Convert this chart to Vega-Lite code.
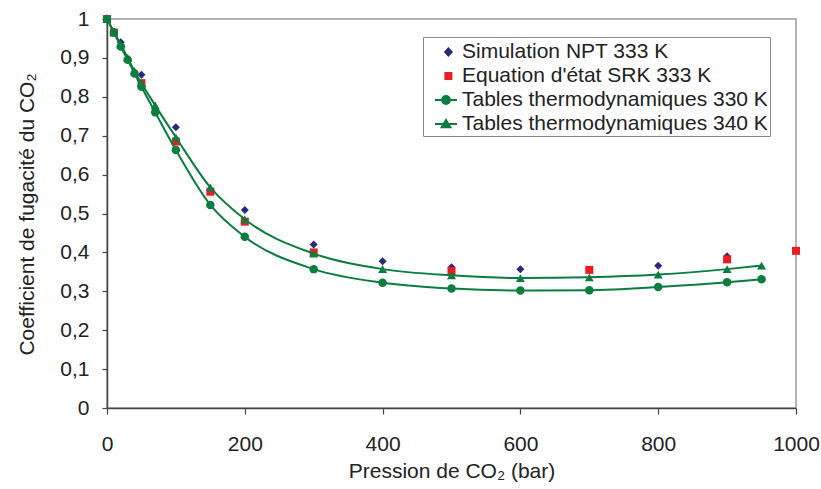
{
  "$schema": "https://vega.github.io/schema/vega-lite/v6.json",
  "width": 689,
  "height": 389,
  "autosize": {"type": "none"},
  "padding": {"left": 107, "top": 19, "right": 25, "bottom": 81},
  "background": "white",
  "config": {
    "font": "Liberation Sans",
    "view": {"stroke": "#9a9a9a", "strokeWidth": 1.5},
    "axis": {
      "grid": false,
      "domainColor": "#444",
      "domainWidth": 1.5,
      "tickColor": "#444",
      "tickWidth": 1.2,
      "labelColor": "#222",
      "titleColor": "#222",
      "labelFont": "Liberation Sans",
      "titleFont": "Liberation Sans",
      "labelFontSize": 21,
      "titleFontSize": 21,
      "titleFontWeight": "normal",
      "labelFlush": false,
      "labelOverlap": false
    },
    "legend": {
      "orient": "none",
      "legendX": 316,
      "legendY": 18,
      "strokeColor": "#8a8a8a",
      "fillColor": "white",
      "padding": 2,
      "rowPadding": 1,
      "labelFont": "Liberation Sans",
      "labelFontSize": 21,
      "labelColor": "#222",
      "labelOffset": 3,
      "symbolSize": 576,
      "symbolStrokeWidth": 2,
      "symbolOffset": 8,
      "labelLimit": 400
    }
  },
  "data": {
    "values": [
      {"series": "Simulation NPT 333 K", "p": 0, "phi": 1},
      {"series": "Simulation NPT 333 K", "p": 10, "phi": 0.967},
      {"series": "Simulation NPT 333 K", "p": 20, "phi": 0.94},
      {"series": "Simulation NPT 333 K", "p": 50, "phi": 0.857},
      {"series": "Simulation NPT 333 K", "p": 100, "phi": 0.722},
      {"series": "Simulation NPT 333 K", "p": 200, "phi": 0.509},
      {"series": "Simulation NPT 333 K", "p": 300, "phi": 0.42},
      {"series": "Simulation NPT 333 K", "p": 400, "phi": 0.377},
      {"series": "Simulation NPT 333 K", "p": 500, "phi": 0.362},
      {"series": "Simulation NPT 333 K", "p": 600, "phi": 0.357},
      {"series": "Simulation NPT 333 K", "p": 800, "phi": 0.366},
      {"series": "Simulation NPT 333 K", "p": 900, "phi": 0.39},
      {"series": "Equation d'état SRK 333 K", "p": 0, "phi": 1},
      {"series": "Equation d'état SRK 333 K", "p": 10, "phi": 0.965},
      {"series": "Equation d'état SRK 333 K", "p": 50, "phi": 0.835},
      {"series": "Equation d'état SRK 333 K", "p": 100, "phi": 0.685},
      {"series": "Equation d'état SRK 333 K", "p": 150, "phi": 0.556},
      {"series": "Equation d'état SRK 333 K", "p": 200, "phi": 0.479},
      {"series": "Equation d'état SRK 333 K", "p": 300, "phi": 0.4},
      {"series": "Equation d'état SRK 333 K", "p": 500, "phi": 0.352},
      {"series": "Equation d'état SRK 333 K", "p": 700, "phi": 0.355},
      {"series": "Equation d'état SRK 333 K", "p": 900, "phi": 0.382},
      {"series": "Equation d'état SRK 333 K", "p": 1000, "phi": 0.404},
      {"series": "Tables thermodynamiques 330 K", "p": 0, "phi": 1},
      {"series": "Tables thermodynamiques 330 K", "p": 10, "phi": 0.965},
      {"series": "Tables thermodynamiques 330 K", "p": 20, "phi": 0.929},
      {"series": "Tables thermodynamiques 330 K", "p": 30, "phi": 0.895},
      {"series": "Tables thermodynamiques 330 K", "p": 40, "phi": 0.86},
      {"series": "Tables thermodynamiques 330 K", "p": 50, "phi": 0.826},
      {"series": "Tables thermodynamiques 330 K", "p": 70, "phi": 0.76},
      {"series": "Tables thermodynamiques 330 K", "p": 100, "phi": 0.663},
      {"series": "Tables thermodynamiques 330 K", "p": 150, "phi": 0.522},
      {"series": "Tables thermodynamiques 330 K", "p": 200, "phi": 0.44},
      {"series": "Tables thermodynamiques 330 K", "p": 300, "phi": 0.357},
      {"series": "Tables thermodynamiques 330 K", "p": 400, "phi": 0.322},
      {"series": "Tables thermodynamiques 330 K", "p": 500, "phi": 0.307},
      {"series": "Tables thermodynamiques 330 K", "p": 600, "phi": 0.302},
      {"series": "Tables thermodynamiques 330 K", "p": 700, "phi": 0.303},
      {"series": "Tables thermodynamiques 330 K", "p": 800, "phi": 0.311},
      {"series": "Tables thermodynamiques 330 K", "p": 900, "phi": 0.323},
      {"series": "Tables thermodynamiques 330 K", "p": 950, "phi": 0.331},
      {"series": "Tables thermodynamiques 340 K", "p": 0, "phi": 1},
      {"series": "Tables thermodynamiques 340 K", "p": 10, "phi": 0.967},
      {"series": "Tables thermodynamiques 340 K", "p": 20, "phi": 0.935},
      {"series": "Tables thermodynamiques 340 K", "p": 30, "phi": 0.9},
      {"series": "Tables thermodynamiques 340 K", "p": 40, "phi": 0.866},
      {"series": "Tables thermodynamiques 340 K", "p": 50, "phi": 0.835},
      {"series": "Tables thermodynamiques 340 K", "p": 70, "phi": 0.778},
      {"series": "Tables thermodynamiques 340 K", "p": 100, "phi": 0.696},
      {"series": "Tables thermodynamiques 340 K", "p": 150, "phi": 0.567},
      {"series": "Tables thermodynamiques 340 K", "p": 200, "phi": 0.485},
      {"series": "Tables thermodynamiques 340 K", "p": 300, "phi": 0.397},
      {"series": "Tables thermodynamiques 340 K", "p": 400, "phi": 0.357},
      {"series": "Tables thermodynamiques 340 K", "p": 500, "phi": 0.341},
      {"series": "Tables thermodynamiques 340 K", "p": 600, "phi": 0.334},
      {"series": "Tables thermodynamiques 340 K", "p": 700, "phi": 0.336},
      {"series": "Tables thermodynamiques 340 K", "p": 800, "phi": 0.343},
      {"series": "Tables thermodynamiques 340 K", "p": 900, "phi": 0.357},
      {"series": "Tables thermodynamiques 340 K", "p": 950, "phi": 0.366}
    ]
  },
  "encoding": {
    "x": {
      "field": "p",
      "type": "quantitative",
      "scale": {"domain": [0, 1000], "nice": false, "zero": false},
      "axis": {
        "values": [0, 200, 400, 600, 800, 1000],
        "format": "d",
        "title": "Pression de CO₂ (bar)",
        "tickSize": 6,
        "labelPadding": 19,
        "titlePadding": 6
      }
    },
    "y": {
      "field": "phi",
      "type": "quantitative",
      "scale": {"domain": [0, 1], "nice": false, "zero": false},
      "axis": {
        "values": [0, 0.1, 0.2, 0.3, 0.4, 0.5, 0.6, 0.7, 0.8, 0.9, 1],
        "labelExpr": "replace(format(datum.value, '~g'), '.', ',')",
        "title": "Coefficient de fugacité du CO₂",
        "tickSize": 5,
        "labelPadding": 13,
        "titlePadding": 22,
        "titleY": 195
      }
    }
  },
  "layer": [
    {
      "transform": [{"filter": "datum.series == 'Simulation NPT 333 K'"}],
      "mark": {"type": "point", "shape": "diamond", "filled": true, "size": 64, "color": "#262a7c", "opacity": 1}
    },
    {
      "transform": [{"filter": "datum.series == \"Equation d'état SRK 333 K\""}],
      "mark": {"type": "point", "shape": "square", "filled": true, "size": 64, "color": "#ec1c24", "opacity": 1}
    },
    {
      "transform": [{"filter": "datum.series == 'Tables thermodynamiques 330 K'"}],
      "mark": {"type": "line", "interpolate": "monotone", "color": "#0b7d3e", "strokeWidth": 2}
    },
    {
      "transform": [{"filter": "datum.series == 'Tables thermodynamiques 330 K'"}],
      "mark": {"type": "point", "shape": "circle", "filled": true, "size": 72, "color": "#0b7d3e", "opacity": 1}
    },
    {
      "transform": [{"filter": "datum.series == 'Tables thermodynamiques 340 K'"}],
      "mark": {"type": "line", "interpolate": "monotone", "color": "#0b7d3e", "strokeWidth": 2}
    },
    {
      "transform": [{"filter": "datum.series == 'Tables thermodynamiques 340 K'"}],
      "mark": {"type": "point", "shape": "triangle-up", "filled": true, "size": 80, "color": "#0b7d3e", "opacity": 1}
    },
    {
      "transform": [{"filter": "datum.p < 0"}],
      "mark": {"type": "point", "filled": true, "opacity": 1},
      "encoding": {
        "fill": {
          "field": "series",
          "type": "nominal",
          "scale": {
            "domain": ["Simulation NPT 333 K", "Equation d'état SRK 333 K", "Tables thermodynamiques 330 K", "Tables thermodynamiques 340 K"],
            "range": ["#262a7c", "#ec1c24", "#0b7d3e", "#0b7d3e"]
          },
          "legend": {"title": null}
        },
        "stroke": {
          "field": "series",
          "type": "nominal",
          "scale": {
            "domain": ["Simulation NPT 333 K", "Equation d'état SRK 333 K", "Tables thermodynamiques 330 K", "Tables thermodynamiques 340 K"],
            "range": ["#262a7c", "#ec1c24", "#0b7d3e", "#0b7d3e"]
          },
          "legend": {"title": null}
        },
        "shape": {
          "field": "series",
          "type": "nominal",
          "scale": {
            "domain": ["Simulation NPT 333 K", "Equation d'état SRK 333 K", "Tables thermodynamiques 330 K", "Tables thermodynamiques 340 K"],
            "range": [
              "M0.2,-0.3L0.47,0L0.2,0.3L-0.07,0Z",
              "M-0.05,-0.25H0.45V0.25H-0.05Z",
              "M-0.92,0H0.92M-0.33,0A0.33,0.33 0 1,1 0.33,0A0.33,0.33 0 1,1 -0.33,0Z",
              "M-0.92,0H0.92M0,-0.33L0.36,0.27H-0.36Z"
            ]
          },
          "legend": {"title": null}
        }
      }
    }
  ]
}
